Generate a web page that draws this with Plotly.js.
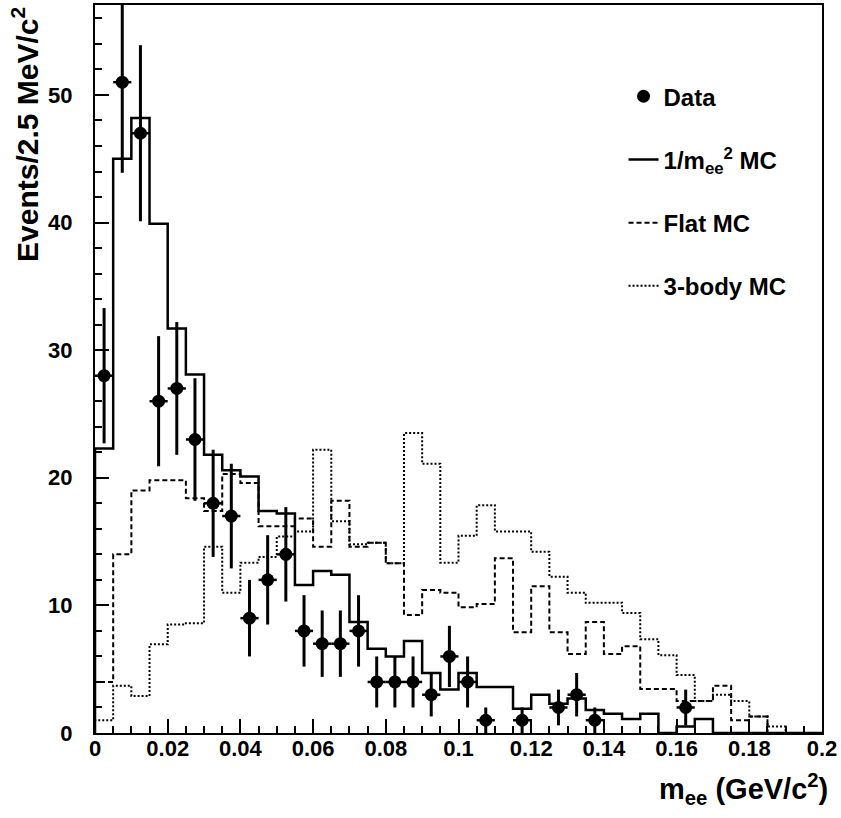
<!DOCTYPE html>
<html>
<head>
<meta charset="utf-8">
<script src="https://cdn.plot.ly/plotly-3.0.1.min.js"></script>
<style>
html,body{margin:0;padding:0;background:#fff;}
#chart{width:841px;height:818px;}
</style>
</head>
<body>
<div id="chart"></div>
<script>
// Bin edges of the m_ee histograms (GeV/c^2)
const binEdges = [0, 0.005, 0.01, 0.015, 0.02, 0.025, 0.03, 0.035, 0.04, 0.045,
  0.05, 0.055, 0.06, 0.065, 0.07, 0.075, 0.08, 0.085, 0.09, 0.095,
  0.1, 0.105, 0.11, 0.115, 0.12, 0.125, 0.13, 0.135, 0.14, 0.145,
  0.15, 0.155, 0.16, 0.165, 0.17, 0.175, 0.18, 0.185, 0.19, 0.195, 0.2];

// 1/m_ee^2 MC (solid)
const mcInvM2 = [22.3, 45.0, 48.2, 39.9, 31.7, 28.1, 21.8, 20.6, 20.1, 17.4,
  17.2, 11.6, 12.7, 12.4, 8.7, 6.6, 6.0, 7.2, 4.7, 3.4,
  4.7, 3.6, 3.6, 1.9, 3.0, 2.3, 2.7, 1.8, 1.5, 1.1,
  1.5, 0, 0.5, 1.1, 0, 0, 0, 0, 0, 0];

// Flat MC (dashed)
const mcFlat = [4.0, 14.0, 19.0, 19.8, 19.8, 18.4, 17.4, 20.3, 19.6, 16.2,
  16.2, 16.8, 14.6, 18.2, 14.6, 14.9, 13.3, 9.25, 11.2, 11.0,
  9.85, 10.1, 13.7, 7.9, 11.5, 7.9, 6.2, 8.7, 6.2, 6.8,
  3.45, 3.45, 2.5, 2.5, 3.7, 1.0, 1.3, 0, 0, 0];

// 3-body MC (dotted)
const mc3Body = [1.0, 3.7, 2.9, 6.95, 8.5, 8.6, 14.6, 11.0, 13.35, 13.8,
  15.4, 15.8, 22.2, 16.6, 14.8, 14.9, 13.3, 23.5, 21.1, 13.35,
  15.45, 17.85, 15.8, 15.8, 14.2, 12.25, 11.0, 10.2, 10.2, 9.4,
  7.35, 6.1, 4.55, 2.5, 3.0, 2.5, 1.3, 0.5, 0, 0];

// Data points
const dataMee = [0.0025, 0.0075, 0.0125, 0.0175, 0.0225, 0.0275, 0.0325, 0.0375, 0.0425, 0.0475,
  0.0525, 0.0575, 0.0625, 0.0675, 0.0725, 0.0775, 0.0825, 0.0875, 0.0925, 0.0975,
  0.1025, 0.1075, 0.1175, 0.1275, 0.1325, 0.1375, 0.1625];
const dataEvents = [28, 51, 47, 26, 27, 23, 18, 17, 9, 12,
  14, 8, 7, 7, 8, 4, 4, 4, 3, 6,
  4, 1, 1, 2, 3, 1, 2];
const dataErr = [5.3, 7.1, 6.9, 5.1, 5.2, 4.8, 4.2, 4.1, 3.0, 3.5,
  3.7, 2.8, 2.6, 2.6, 2.8, 2.0, 2.0, 2.0, 1.7, 2.4,
  2.0, 1.0, 1.0, 1.4, 1.7, 1.0, 1.4];
const halfBin = 0.0025;

const xTickVals = [0, 0.02, 0.04, 0.06, 0.08, 0.1, 0.12, 0.14, 0.16, 0.18, 0.2];
const xTickText = ['0', '0.02', '0.04', '0.06', '0.08', '0.1', '0.12', '0.14', '0.16', '0.18', '0.2'];
const yTickVals = [0, 10, 20, 30, 40, 50];

const legendNames = ['Data', '1/m<sub>ee</sub><sup>2</sup> MC', 'Flat MC', '3-body MC'];

function stepTrace(edges, vals) {
  const n = edges.length - 1;
  const x = [edges[0]].concat(edges).concat([edges[n]]);
  const y = [0].concat(vals).concat([vals[n - 1], 0]);
  return {x: x, y: y};
}

const FONT = 'Liberation Sans, Arial, Helvetica, sans-serif';

const s1 = stepTrace(binEdges, mcInvM2);
const s2 = stepTrace(binEdges, mcFlat);
const s3 = stepTrace(binEdges, mc3Body);

const traces = [
  {x: s3.x, y: s3.y, type: 'scatter', mode: 'lines', name: legendNames[3],
   line: {shape: 'hv', color: '#000', width: 2, dash: '2px,2px'},
   legendgroup: 'g4', legendrank: 4},
  {x: s2.x, y: s2.y, type: 'scatter', mode: 'lines', name: legendNames[2],
   line: {shape: 'hv', color: '#000', width: 2, dash: '5px,3px'},
   legendgroup: 'g3', legendrank: 3},
  {x: s1.x, y: s1.y, type: 'scatter', mode: 'lines', name: legendNames[1],
   line: {shape: 'hv', color: '#000', width: 2.5},
   legendgroup: 'g2', legendrank: 2},
  {x: dataMee, y: dataEvents, type: 'scatter', mode: 'markers', name: legendNames[0],
   marker: {symbol: 'circle', size: 13, color: '#000'},
   error_y: {type: 'data', array: dataErr, visible: true, color: '#000', thickness: 3, width: 0},
   error_x: {type: 'constant', value: halfBin, visible: true, color: '#000', thickness: 2.5, width: 0},
   legendgroup: 'g1', legendrank: 1}
];

const layout = {
  width: 841, height: 818,
  margin: {l: 95, r: 19, t: 5, b: 85},
  paper_bgcolor: '#fff', plot_bgcolor: '#fff',
  showlegend: true,
  legend: {
    x: 0.727, xanchor: 'left', y: 0.905, yanchor: 'top',
    bgcolor: 'rgba(0,0,0,0)', borderwidth: 0,
    traceorder: 'grouped', tracegroupgap: 29,
    font: {family: FONT, size: 24, color: '#000', weight: 'bold'},
    itemwidth: 30
  },
  xaxis: {
    range: [0, 0.2], autorange: false,
    tickvals: xTickVals, ticktext: xTickText,
    ticks: 'inside', ticklen: 14, tickwidth: 2, tickcolor: '#000',
    minor: {dtick: 0.005, tick0: 0, ticks: 'inside', ticklen: 7, tickwidth: 2, tickcolor: '#000', showgrid: false},
    showline: true, linewidth: 2, linecolor: '#000', mirror: true,
    showgrid: false, zeroline: false,
    tickfont: {family: FONT, size: 22, color: '#000', weight: 'bold'},
    ticklabelstandoff: -5
  },
  yaxis: {
    range: [0, 57.05], autorange: false,
    tickvals: yTickVals,
    ticks: 'inside', ticklen: 14, tickwidth: 2, tickcolor: '#000',
    minor: {dtick: 2, tick0: 0, ticks: 'inside', ticklen: 7, tickwidth: 2, tickcolor: '#000', showgrid: false},
    showline: true, linewidth: 2, linecolor: '#000', mirror: true,
    showgrid: false, zeroline: false,
    tickfont: {family: FONT, size: 22, color: '#000', weight: 'bold'},
    ticklabelstandoff: 16
  },
  annotations: [
    {text: 'Events/2.5 MeV/c<sup>2</sup>', xref: 'paper', yref: 'paper',
     x: -0.097, y: 1.0, xanchor: 'center', yanchor: 'top', textangle: -90, showarrow: false,
     font: {family: FONT, size: 30, color: '#000', weight: 'bold'}},
    {text: 'm<sub>ee</sub> (GeV/c<sup>2</sup>)', xref: 'paper', yref: 'paper',
     x: 1.011, y: -0.077, xanchor: 'right', yanchor: 'middle', showarrow: false,
     font: {family: FONT, size: 29, color: '#000', weight: 'bold'}}
  ]
};

Plotly.newPlot('chart', traces, layout, {displayModeBar: false, staticPlot: true});
</script>
</body>
</html>
